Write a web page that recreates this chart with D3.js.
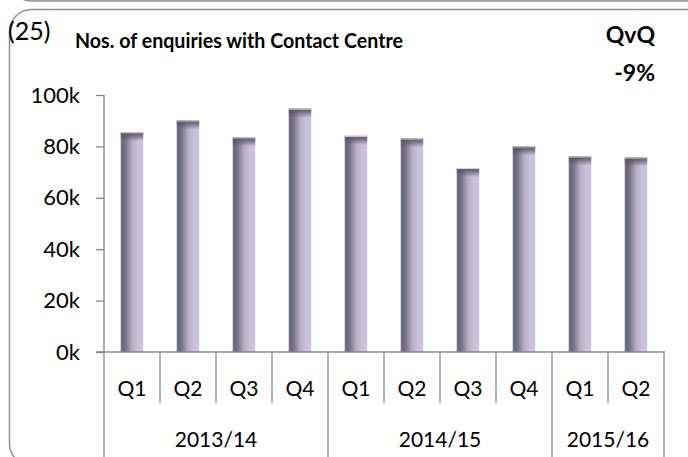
<!DOCTYPE html>
<html>
<head>
<meta charset="utf-8">
<script src="https://cdn.jsdelivr.net/npm/d3@7"></script>
<style>
  body { margin: 0; background: #fff; }
  text { font-family: Lato, "Open Sans", sans-serif; fill: #000; }
</style>
</head>
<body>
<svg width="688" height="457"></svg>
<script>
// data
var years = ["2013/14", "2014/15", "2015/16"];
var quarters = ["Q1", "Q2", "Q3", "Q4", "Q1", "Q2", "Q3", "Q4", "Q1", "Q2"];
var quarterYear = [0, 0, 0, 0, 1, 1, 1, 1, 2, 2];
var enquiries = [85500, 90100, 83500, 94700, 84100, 83100, 71600, 80000, 76100, 75700];
var yTicks = [0, 20000, 40000, 60000, 80000, 100000];

var svg = d3.select("svg"),
    width = +svg.attr("width"),
    height = +svg.attr("height");

var plotLeft = 104, plotRight = 664, plotTop = 95, plotBottom = 352;

var keys = quarters.map(function(q, i) { return i; });

var x = d3.scaleBand()
    .domain(keys)
    .range([plotLeft, plotRight])
    .paddingInner(0.6)
    .paddingOuter(0.3);

var y = d3.scaleLinear()
    .domain([0, 100000])
    .range([plotBottom, plotTop]);

var step = x.step();

// gradients for the bars
var defs = svg.append("defs");
var side = defs.append("linearGradient").attr("id", "side")
    .attr("x1", "0").attr("x2", "1").attr("y1", "0").attr("y2", "0");
side.append("stop").attr("offset", "0").attr("stop-color", "#6a6575");
side.append("stop").attr("offset", "0.2").attr("stop-color", "#767183");
side.append("stop").attr("offset", "0.5").attr("stop-color", "#b3acc4");
side.append("stop").attr("offset", "0.75").attr("stop-color", "#c8c0da");
side.append("stop").attr("offset", "1").attr("stop-color", "#cbc3dc");

var cap = defs.append("linearGradient").attr("id", "cap")
    .attr("x1", "0").attr("x2", "0").attr("y1", "0").attr("y2", "1");
cap.append("stop").attr("offset", "0").attr("stop-color", "#5a5564").attr("stop-opacity", 0.95);
cap.append("stop").attr("offset", "0.4").attr("stop-color", "#5a5564").attr("stop-opacity", 0.7);
cap.append("stop").attr("offset", "1").attr("stop-color", "#5a5564").attr("stop-opacity", 0);

// frames
svg.append("rect")
    .attr("x", 9.5).attr("y", -460).attr("width", 700).attr("height", 461)
    .attr("rx", 22)
    .attr("fill", "none").attr("stroke", "#8f8f8f").attr("stroke-width", 1.5);
svg.append("rect")
    .attr("x", 9.5).attr("y", 9.5).attr("width", 700).attr("height", 456)
    .attr("rx", 22)
    .attr("fill", "none").attr("stroke", "#8f8f8f").attr("stroke-width", 1.5);

// titles
svg.append("text").attr("x", 8).attr("y", 40)
    .style("font-size", "25px").text("(25)");
svg.append("text").attr("x", 75).attr("y", 48)
    .style("font-size", "21.5px").style("font-weight", "bold")
    .attr("textLength", 328).attr("lengthAdjust", "spacingAndGlyphs")
    .text("Nos. of enquiries with Contact Centre");
svg.append("text").attr("x", 655).attr("y", 43).attr("text-anchor", "end")
    .style("font-size", "23px").style("font-weight", "bold").text("QvQ");
svg.append("text").attr("x", 655).attr("y", 81).attr("text-anchor", "end")
    .style("font-size", "23px").style("font-weight", "bold").text("-9%");

// bars
var bars = svg.append("g").selectAll("g")
    .data(enquiries)
    .enter().append("g");

bars.append("rect")
    .attr("x", function(d, i) { return x(i); })
    .attr("y", function(d) { return y(d); })
    .attr("width", x.bandwidth())
    .attr("height", function(d) { return y(0) - y(d); })
    .attr("fill", "url(#side)");

bars.append("rect")
    .attr("x", function(d, i) { return x(i); })
    .attr("y", function(d) { return y(d); })
    .attr("width", x.bandwidth())
    .attr("height", 9)
    .attr("fill", "url(#cap)");

bars.append("line")
    .attr("x1", function(d, i) { return x(i); })
    .attr("x2", function(d, i) { return x(i) + x.bandwidth(); })
    .attr("y1", function(d) { return y(d) + 0.5; })
    .attr("y2", function(d) { return y(d) + 0.5; })
    .attr("stroke", "#d8d3e2").attr("stroke-width", 1);

// y axis
var yAxis = d3.axisLeft(y)
    .tickValues(yTicks)
    .tickSize(8)
    .tickPadding(16)
    .tickFormat(function(d) { return (d / 1000) + "k"; });

var gy = svg.append("g")
    .attr("transform", "translate(" + plotLeft + ",0)")
    .call(yAxis);
gy.select(".domain").remove();
gy.selectAll(".tick line").attr("stroke", "#868686").attr("stroke-width", 1.3);
gy.selectAll(".tick text")
    .style("font-size", "22px").style("font-family", "Lato, sans-serif").attr("fill", "#000");
gy.append("line")
    .attr("x1", 0).attr("x2", 0).attr("y1", y(100000)).attr("y2", y(0))
    .attr("stroke", "#868686").attr("stroke-width", 1.3);

// x axis: quarters, then years
var gx = svg.append("g");
gx.append("line")
    .attr("x1", plotLeft - 8).attr("x2", plotRight + 1).attr("y1", plotBottom).attr("y2", plotBottom)
    .attr("stroke", "#868686").attr("stroke-width", 1.3);

var edges = d3.range(quarters.length + 1);
gx.selectAll(".sep")
    .data(edges)
    .enter().append("line")
    .attr("x1", function(i) { return plotLeft + i * step; })
    .attr("x2", function(i) { return plotLeft + i * step; })
    .attr("y1", plotBottom)
    .attr("y2", function(i) {
      var yearEdge = i === 0 || i === quarters.length || quarterYear[i] !== quarterYear[i - 1];
      return yearEdge ? height + 10 : 403;
    })
    .attr("stroke", "#8a8a8a").attr("stroke-width", 1.3);

gx.selectAll(".q")
    .data(quarters)
    .enter().append("text")
    .attr("x", function(d, i) { return x(i) + x.bandwidth() / 2; })
    .attr("y", 396)
    .attr("text-anchor", "middle")
    .style("font-size", "21px")
    .text(function(d) { return d; });

gx.selectAll(".yr")
    .data(years)
    .enter().append("text")
    .attr("x", function(d, k) {
      var idx = keys.filter(function(i) { return quarterYear[i] === k; });
      var x0 = plotLeft + idx[0] * step, x1 = plotLeft + (idx[idx.length - 1] + 1) * step;
      return (x0 + x1) / 2;
    })
    .attr("y", 447)
    .attr("text-anchor", "middle")
    .style("font-size", "21px")
    .text(function(d) { return d; });
</script>
</body>
</html>
